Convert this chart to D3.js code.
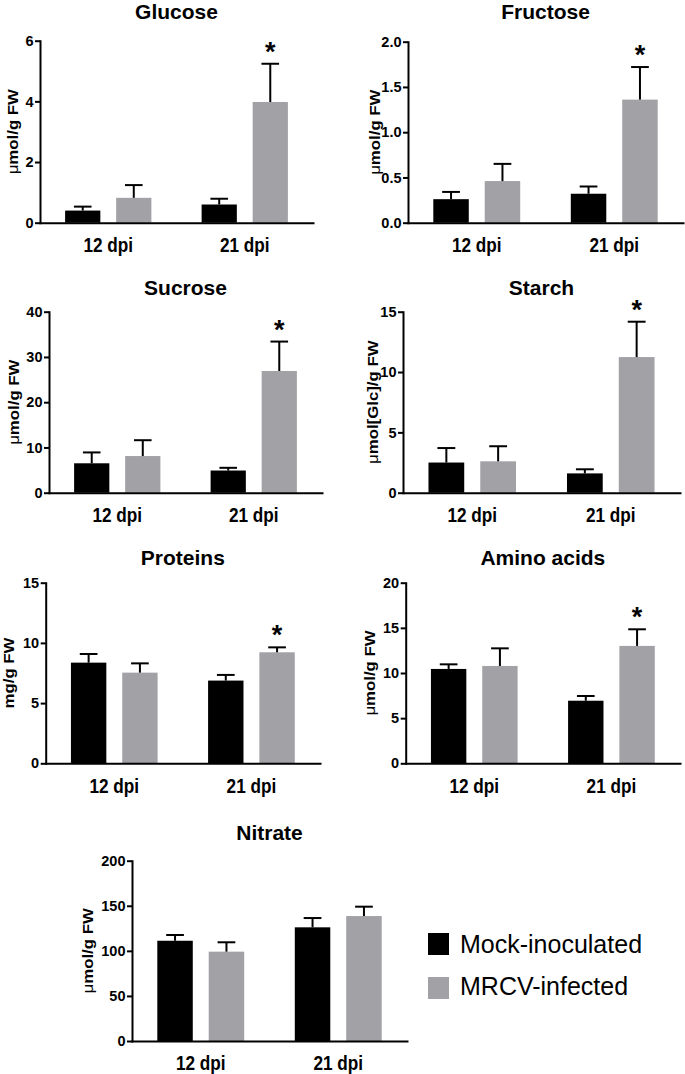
<!DOCTYPE html>
<html>
<head>
<meta charset="utf-8">
<script src="https://cdn.jsdelivr.net/npm/d3@7"></script>
<style>
  html, body { margin: 0; padding: 0; background: #fff; }
  svg { display: block; font-family: "Liberation Sans", Arial, sans-serif; }
</style>
</head>
<body>
<svg id="chart" width="685" height="1074"></svg>
<script>
// ---------- DATA ----------
const categories = ["12 dpi", "21 dpi"];
const seriesNames = ["Mock-inoculated", "MRCV-infected"];
const panelTitles = ["Glucose", "Fructose", "Sucrose", "Starch", "Proteins", "Amino acids", "Nitrate"];
const yLabelUnits = ["mol/g FW", "mol/g FW", "mol/g FW", "mol[Glc]/g FW", "mg/g FW", "mol/g FW", "mol/g FW"];
const yLabelMicro = [true, true, true, true, false, true, true];

const glucoseMock = [0.40, 0.60];
const glucoseMockErr = [0.13, 0.19];
const glucoseMrcv = [0.82, 3.98];
const glucoseMrcvErr = [0.42, 1.26];

const fructoseMock = [0.26, 0.32];
const fructoseMockErr = [0.08, 0.08];
const fructoseMrcv = [0.46, 1.36];
const fructoseMrcvErr = [0.19, 0.36];

const sucroseMock = [6.5, 4.9];
const sucroseMockErr = [2.4, 0.6];
const sucroseMrcv = [8.1, 26.9];
const sucroseMrcvErr = [3.5, 6.5];

const starchMock = [2.5, 1.6];
const starchMockErr = [1.2, 0.34];
const starchMrcv = [2.6, 11.24];
const starchMrcvErr = [1.25, 2.93];

const proteinsMock = [8.36, 6.87];
const proteinsMockErr = [0.72, 0.47];
const proteinsMrcv = [7.53, 9.22];
const proteinsMrcvErr = [0.77, 0.41];

const aminoMock = [10.45, 6.93];
const aminoMockErr = [0.51, 0.52];
const aminoMrcv = [10.78, 13.0];
const aminoMrcvErr = [1.95, 1.84];

const nitrateMock = [111.2, 126.1];
const nitrateMockErr = [6.4, 10.3];
const nitrateMrcv = [99.1, 138.6];
const nitrateMrcvErr = [10.4, 10.4];

const glucoseTicks = [0, 2, 4, 6];
const fructoseTicks = [0, 0.5, 1.0, 1.5, 2.0];
const sucroseTicks = [0, 10, 20, 30, 40];
const starchTicks = [0, 5, 10, 15];
const proteinsTicks = [0, 5, 10, 15];
const aminoTicks = [0, 5, 10, 15, 20];
const nitrateTicks = [0, 50, 100, 150, 200];

// significance marks (per category, for MRCV-infected)
const glucoseSig = [false, true];
const fructoseSig = [false, true];
const sucroseSig = [false, true];
const starchSig = [false, true];
const proteinsSig = [false, true];
const aminoSig = [false, true];
const nitrateSig = [false, false];

// ---------- BUILD ----------
const panels = [
  {mock: glucoseMock, mockErr: glucoseMockErr, mrcv: glucoseMrcv, mrcvErr: glucoseMrcvErr, ticks: glucoseTicks, sig: glucoseSig, fmt: d3.format("d")},
  {mock: fructoseMock, mockErr: fructoseMockErr, mrcv: fructoseMrcv, mrcvErr: fructoseMrcvErr, ticks: fructoseTicks, sig: fructoseSig, fmt: d3.format(".1f")},
  {mock: sucroseMock, mockErr: sucroseMockErr, mrcv: sucroseMrcv, mrcvErr: sucroseMrcvErr, ticks: sucroseTicks, sig: sucroseSig, fmt: d3.format("d")},
  {mock: starchMock, mockErr: starchMockErr, mrcv: starchMrcv, mrcvErr: starchMrcvErr, ticks: starchTicks, sig: starchSig, fmt: d3.format("d")},
  {mock: proteinsMock, mockErr: proteinsMockErr, mrcv: proteinsMrcv, mrcvErr: proteinsMrcvErr, ticks: proteinsTicks, sig: proteinsSig, fmt: d3.format("d")},
  {mock: aminoMock, mockErr: aminoMockErr, mrcv: aminoMrcv, mrcvErr: aminoMrcvErr, ticks: aminoTicks, sig: aminoSig, fmt: d3.format("d")},
  {mock: nitrateMock, mockErr: nitrateMockErr, mrcv: nitrateMrcv, mrcvErr: nitrateMrcvErr, ticks: nitrateTicks, sig: nitrateSig, fmt: d3.format("d")}
];

// layout (positions only)
const layout = [
  {x0: 40,    x1: 313, y0: 40.7,  y1: 222.7, titleY: 18.5, labelX: 12.5},
  {x0: 408,   x1: 683, y0: 41.7,  y1: 222.7, titleY: 18.5, labelX: 374.5},
  {x0: 49,    x1: 322, y0: 311.7, y1: 492.7, titleY: 295,  labelX: 14},
  {x0: 403,   x1: 680, y0: 311.7, y1: 492.7, titleY: 295,  labelX: 373},
  {x0: 45.7,  x1: 320, y0: 582.7, y1: 763.3, titleY: 565,  labelX: 9},
  {x0: 405.7, x1: 680, y0: 582.7, y1: 763.3, titleY: 565,  labelX: 370},
  {x0: 132,   x1: 407, y0: 860.7, y1: 1041,  titleY: 840,  labelX: 88}
];

const colors = {"Mock-inoculated": "#000000", "MRCV-infected": "#a1a1a6"};
const FONT = "Liberation Sans, Arial, sans-serif";
const svg = d3.select("#chart");

panels.forEach((p, i) => {
  const L = layout[i];
  const g = svg.append("g");
  const yMax = d3.max(p.ticks);
  const y = d3.scaleLinear().domain([0, yMax]).range([L.y1, L.y0]);
  const xb = d3.scaleBand().domain(categories).range([L.x0, L.x1]).paddingInner(0.368).paddingOuter(0.184);
  const xs = d3.scaleBand().domain(seriesNames).range([0, xb.bandwidth()]).paddingInner(0.31);

  const rows = [];
  categories.forEach((c, ci) => {
    rows.push({cat: c, s: seriesNames[0], v: p.mock[ci], e: p.mockErr[ci], sig: false});
    rows.push({cat: c, s: seriesNames[1], v: p.mrcv[ci], e: p.mrcvErr[ci], sig: p.sig[ci]});
  });
  const cx = d => xb(d.cat) + xs(d.s) + xs.bandwidth() / 2;

  // bars
  g.selectAll("rect.bar").data(rows).join("rect")
    .attr("class", "bar")
    .attr("x", d => xb(d.cat) + xs(d.s))
    .attr("width", xs.bandwidth())
    .attr("y", d => y(d.v))
    .attr("height", d => y(0) - y(d.v))
    .attr("fill", d => colors[d.s]);

  // error bars (upper only)
  const capW = xs.bandwidth() / 2;
  const eb = g.selectAll("g.err").data(rows).join("g").attr("class", "err");
  eb.append("line")
    .attr("x1", cx).attr("x2", cx)
    .attr("y1", d => y(d.v))
    .attr("y2", d => y(d.v + d.e))
    .attr("stroke", "#000").attr("stroke-width", 2);
  eb.append("line")
    .attr("x1", d => cx(d) - capW / 2)
    .attr("x2", d => cx(d) + capW / 2)
    .attr("y1", d => y(d.v + d.e))
    .attr("y2", d => y(d.v + d.e))
    .attr("stroke", "#000").attr("stroke-width", 2);

  // asterisks
  g.selectAll("text.sig").data(rows.filter(d => d.sig)).join("text")
    .attr("class", "sig")
    .attr("x", cx)
    .attr("y", d => y(d.v + d.e) - 3)
    .attr("text-anchor", "middle")
    .attr("font-size", 27).attr("font-weight", "bold")
    .text("*");

  // y axis
  const ya = g.append("g").attr("transform", `translate(${L.x0},0)`)
    .call(d3.axisLeft(y).tickValues(p.ticks).tickFormat(p.fmt).tickSize(5).tickSizeOuter(0).tickPadding(1.5));
  ya.select(".domain").attr("stroke-width", 2).attr("stroke-linecap", "square");
  ya.selectAll(".tick line").attr("stroke-width", 2);
  ya.selectAll(".tick text").attr("font-size", 14.5).attr("font-weight", "bold").attr("fill", "#000")
    .attr("font-family", FONT);

  // x axis
  const xa = g.append("g").attr("transform", `translate(0,${L.y1})`)
    .call(d3.axisBottom(xb).tickSize(0).tickSizeOuter(0).tickPadding(15.3));
  xa.select(".domain").attr("stroke-width", 2).attr("stroke-linecap", "square");
  xa.selectAll(".tick text").attr("font-size", 20).attr("font-weight", "bold").attr("fill", "#000")
    .attr("font-family", FONT).attr("transform", "scale(0.86,1)");

  // title
  g.append("text")
    .attr("x", (L.x0 + L.x1) / 2).attr("y", L.titleY)
    .attr("text-anchor", "middle")
    .attr("font-size", 21).attr("font-weight", "bold")
    .text(panelTitles[i]);

  // y label
  const yl = g.append("text")
    .attr("transform", `translate(${L.labelX},${(L.y0 + L.y1) / 2}) rotate(-90) scale(1.2,1)`)
    .attr("text-anchor", "middle")
    .attr("dominant-baseline", "central")
    .attr("font-size", 14).attr("font-weight", "bold");
  if (yLabelMicro[i]) {
    yl.append("tspan").attr("font-weight", "normal").text("\u03BC");
  }
  yl.append("tspan").text(yLabelUnits[i]);
});

// legend
const legendRows = [
  {name: seriesNames[0], sq: 933, ty: 953},
  {name: seriesNames[1], sq: 977, ty: 995}
];
const lg = svg.append("g");
lg.selectAll("rect").data(legendRows).join("rect")
  .attr("x", 428).attr("y", d => d.sq).attr("width", 21).attr("height", 22)
  .attr("fill", d => colors[d.name]);
lg.selectAll("text").data(legendRows).join("text")
  .attr("x", 460).attr("y", d => d.ty)
  .attr("font-size", 25)
  .text(d => d.name);
</script>
</body>
</html>
